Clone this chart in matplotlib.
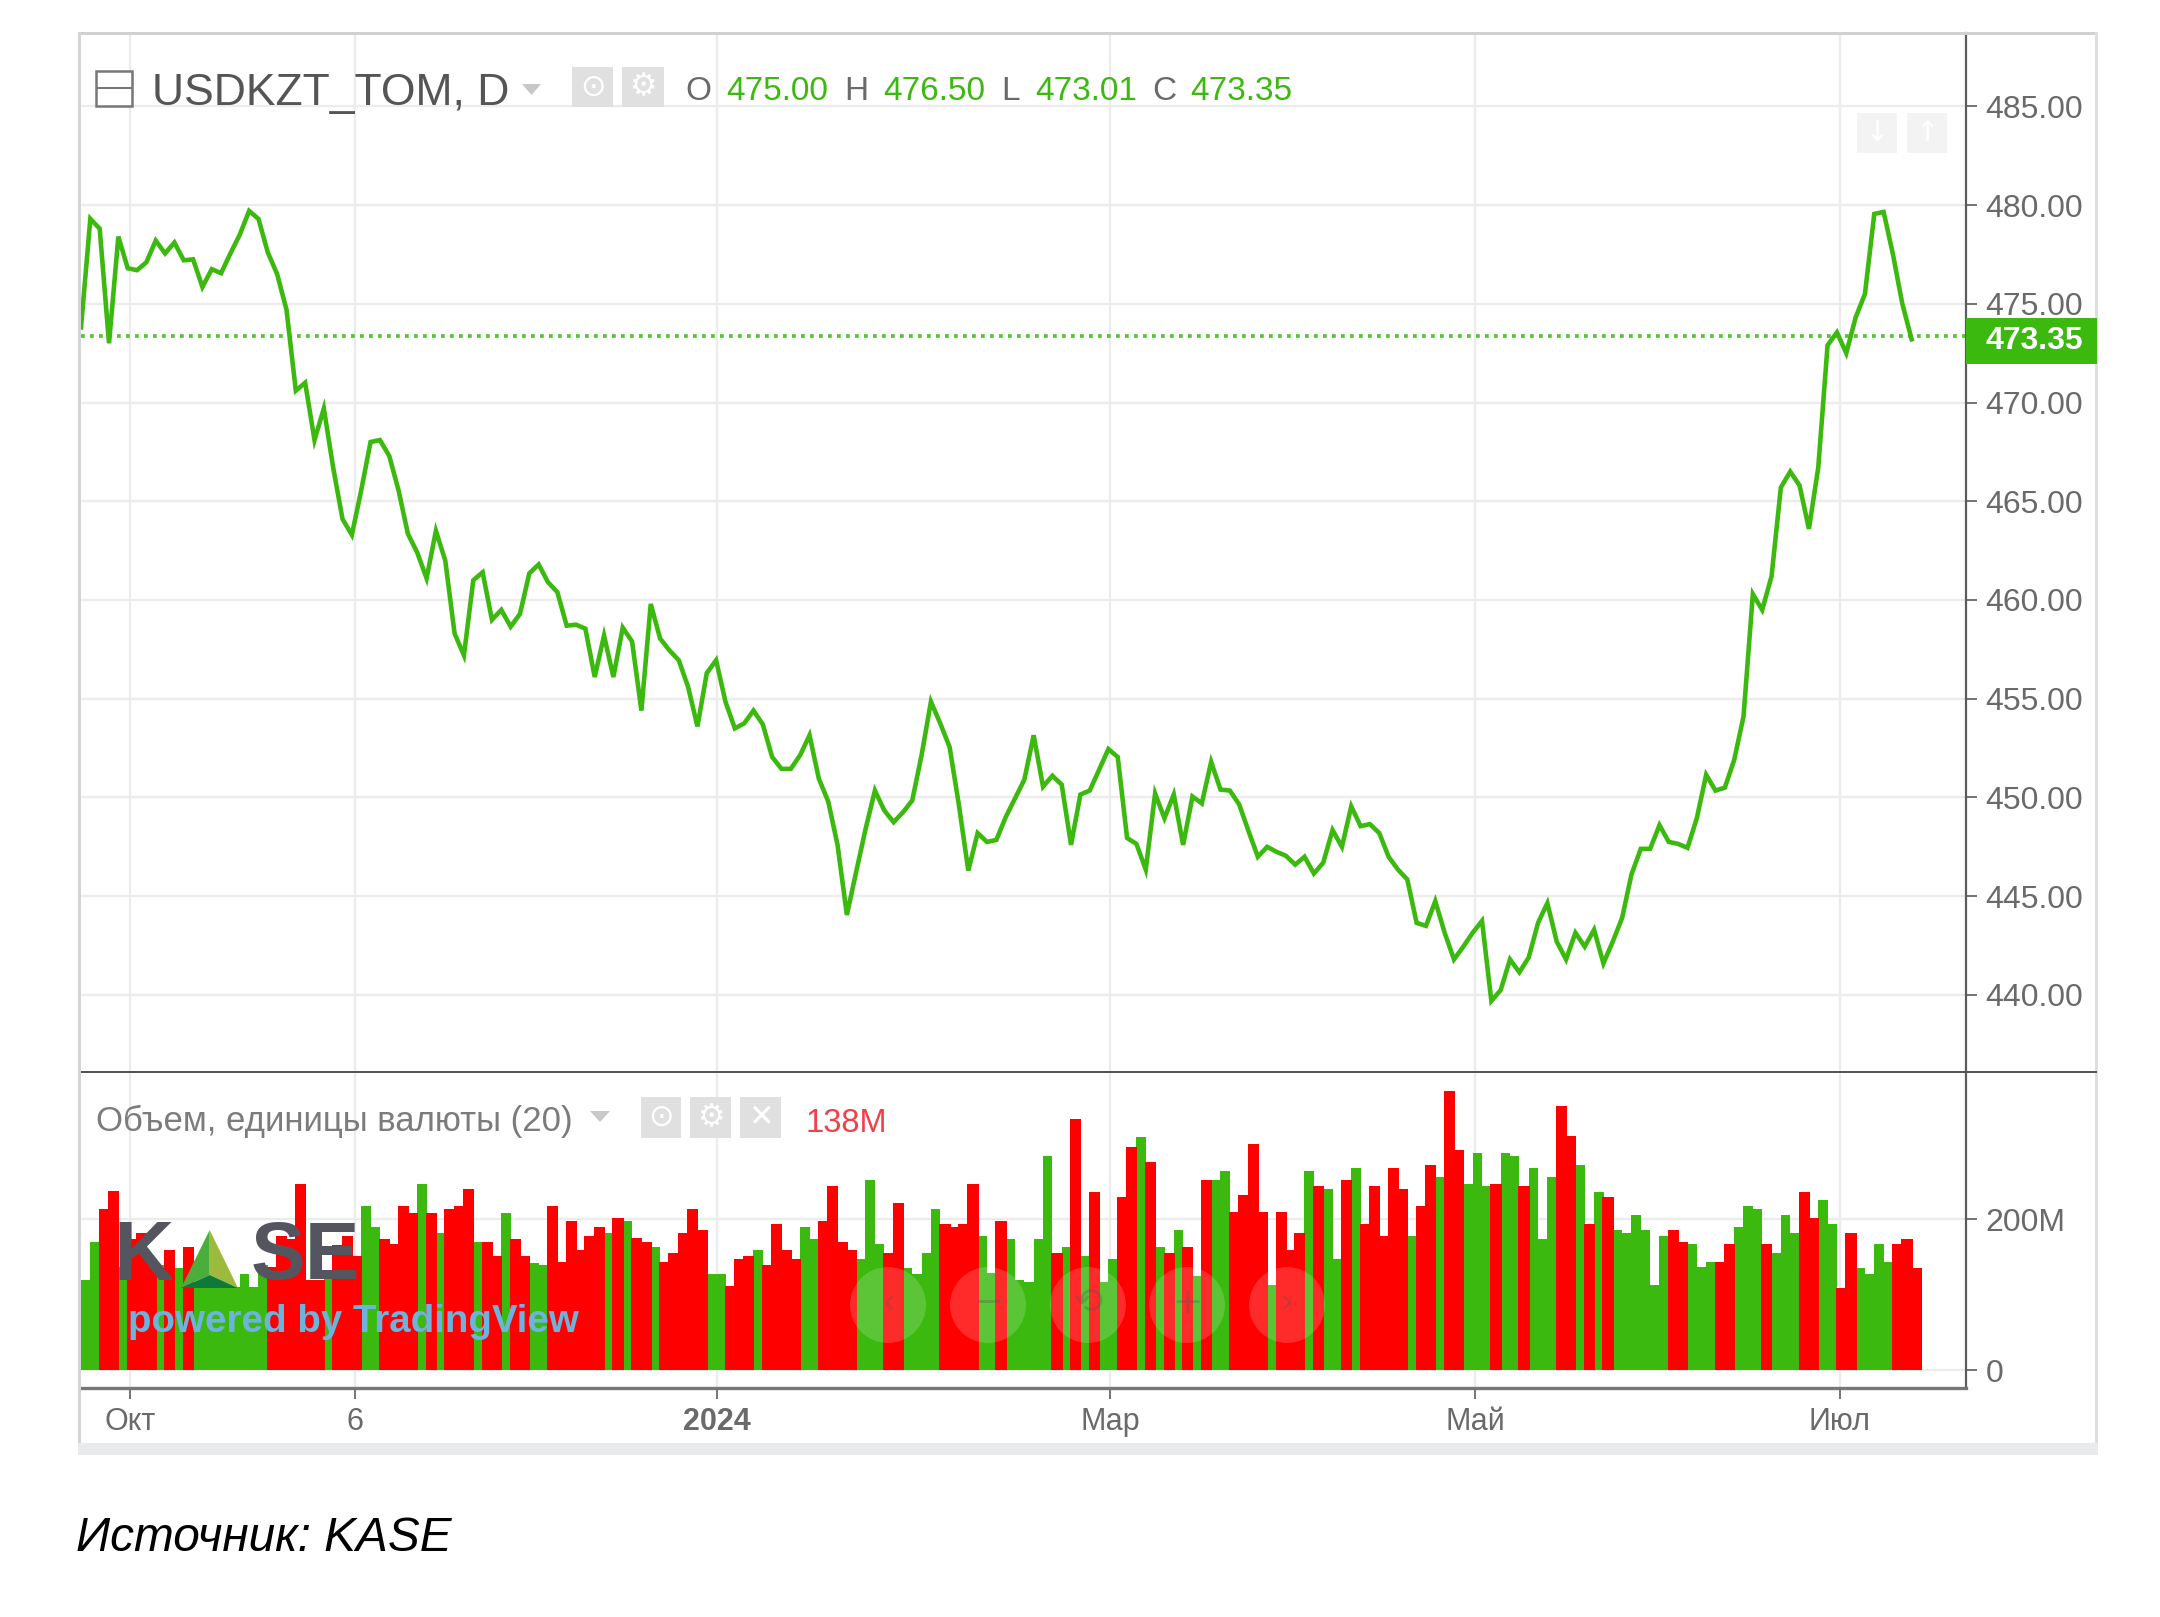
import matplotlib
matplotlib.use('Agg')
import matplotlib.pyplot as plt
from matplotlib.patches import Rectangle, Polygon, Ellipse

plt.rcParams['font.family'] = ['Liberation Sans', 'DejaVu Sans']

# Close price per trading day
price = [
    473.8, 479.3, 478.8, 473.0, 478.4, 476.8, 476.7, 477.1, 478.2, 477.55,
    478.1, 477.2, 477.25, 475.85, 476.75, 476.55, 477.55, 478.5, 479.7, 479.3,
    477.6, 476.5, 474.7, 470.6, 471.0, 468.1, 469.7, 466.7, 464.1, 463.3,
    465.55, 468.0, 468.1, 467.3, 465.55, 463.35, 462.4, 461.1, 463.5, 462.0,
    458.3, 457.2, 461.0, 461.4, 459.0, 459.5, 458.65, 459.3, 461.35, 461.8,
    460.9, 460.4, 458.7, 458.75, 458.55, 456.1, 458.2, 456.1, 458.6, 457.9,
    454.4, 459.8, 458.05, 457.45, 456.95, 455.6, 453.6, 456.3, 456.95, 454.85,
    453.5, 453.75, 454.4, 453.7, 452.05, 451.45, 451.45, 452.15, 453.15, 450.95,
    449.8, 447.6, 444.05, 446.25, 448.4, 450.35, 449.35, 448.75, 449.25, 449.85,
    452.15, 454.85, 453.75, 452.55, 449.6, 446.3, 448.2, 447.75, 447.85, 449.0,
    449.95, 450.9, 453.15, 450.55, 451.1, 450.65, 447.6, 450.15, 450.35, 451.4,
    452.45, 452.05, 447.95, 447.65, 446.35, 450.2, 448.95, 450.15, 447.6, 450.05,
    449.7, 451.8, 450.4, 450.35, 449.65, 448.3, 447.0, 447.5, 447.25, 447.05,
    446.6, 447.0, 446.15, 446.7, 448.35, 447.5, 449.55, 448.55, 448.65, 448.2,
    447.0, 446.35, 445.85, 443.65, 443.5, 444.75, 443.15, 441.8, 442.45, 443.15,
    443.75, 439.7, 440.25, 441.8, 441.15, 441.9, 443.65, 444.65, 442.7, 441.8,
    443.15, 442.45, 443.3, 441.6, 442.7, 443.9, 446.1, 447.4, 447.4, 448.6,
    447.75, 447.65, 447.45, 448.95, 451.15, 450.35, 450.5, 451.9, 454.1, 460.3,
    459.5, 461.2, 465.7, 466.5, 465.8, 463.6, 466.7, 472.9, 473.55, 472.5,
    474.3, 475.5, 479.55, 479.65, 477.5, 475.0, 473.2,
]

# Volume in millions, same days
volume = [
    119, 170, 213, 237, 137, 174, 181, 146, 139, 159,
    135, 163, 110, 110, 110, 110, 110, 127, 110, 139,
    137, 177, 174, 247, 119, 119, 124, 166, 177, 151,
    217, 190, 174, 167, 217, 208, 247, 208, 181, 213,
    217, 240, 169, 170, 151, 208, 174, 151, 142, 139,
    217, 143, 198, 159, 178, 190, 181, 202, 198, 175,
    170, 163, 143, 155, 181, 213, 185, 127, 127, 111,
    147, 151, 159, 139, 193, 159, 147, 189, 174, 197,
    244, 170, 159, 147, 252, 167, 155, 221, 135, 127,
    155, 213, 193, 190, 193, 247, 178, 128, 197, 174,
    119, 116, 174, 283, 155, 163, 333, 151, 236, 116,
    147, 229, 295, 309, 275, 163, 155, 185, 163, 124,
    252, 252, 264, 209, 232, 299, 209, 113, 209, 159,
    182, 264, 244, 240, 147, 252, 267, 193, 244, 178,
    267, 240, 177, 217, 271, 255, 369, 291, 247, 287,
    244, 247, 287, 283, 244, 267, 174, 255, 350, 310,
    271, 193, 236, 229, 185, 181, 205, 185, 113, 177,
    185, 170, 167, 136, 143, 143, 167, 189, 217, 213,
    167, 155, 205, 181, 236, 202, 225, 193, 108, 181,
    135, 127, 167, 143, 167, 174, 135,
]

# g = rising day, r = falling day
direction = (
    'ggrrgrrrgr' 'grgggggggg' 'rrrrrrgrrr' 'ggrrrrgrgr' 'rrgrrgrrgg'
    'rrrrrrgrgr' 'rgrrrrrggr' 'rrgrrrrggr' 'rrrgggrrgg' 'ggrrrrggrg'
    'ggggrgrgrg' 'grrgrgrgrg' 'rggrrrrgrr' 'rgrggrgrrr' 'rrgrrgrrgg'
    'grggrgggrr' 'grgrgggggg' 'rrgggrrggg' 'rgggrrggrr' 'ggggrrr'
)

price_ticks = [440, 445, 450, 455, 460, 465, 470, 475, 480, 485]
volume_ticks = [0, 200]
volume_labels = ['0', '200M']
month_ticks = [5.25, 29.3, 68.1, 110.2, 149.3, 188.3]
month_labels = ['Окт', '6', '2024', 'Мар', 'Май', 'Июл']
last_close = 473.35

GREEN = '#3cb90f'
RED = '#ff0000'
GRID = '#ececec'
AXIS = '#5c5c5c'
LABEL = '#6a6a6a'
W, H = 2160, 1617


def fx(x):
    return x / W


def fy(y):
    return 1 - y / H


def box(x0, y0, x1, y1, color, z=5, alpha=1.0):
    fig.add_artist(Rectangle((fx(x0), fy(y1)), (x1 - x0) / W, (y1 - y0) / H, transform=fig.transFigure,
                             facecolor=color, edgecolor='none', zorder=z, alpha=alpha))


def poly(points, color, z=6):
    fig.add_artist(Polygon([(fx(x), fy(y)) for x, y in points], closed=True, transform=fig.transFigure,
                           facecolor=color, edgecolor='none', zorder=z))


def label(x, y, s, size, color=LABEL, ha='left', **kw):
    fig.text(fx(x), fy(y), s, fontsize=size, color=color, ha=ha, va='center', zorder=7, **kw)


def icon(x0, y0, x1, y1, glyph, color='#e0e0e0', size=22):
    box(x0, y0, x1, y1, color)
    label((x0 + x1) / 2, (y0 + y1) / 2, glyph, size, color='white', ha='center', family='DejaVu Sans')


fig = plt.figure(figsize=(21.6, 16.17), dpi=100, facecolor='white')

left, right = 81, 1966
step = 9.34
xmax = (right - left) / step

# Price pane
ax = fig.add_axes([fx(left), fy(1072), (right - left) / W, (1072 - 33) / H])
ax.plot(range(len(price)), price, color=GREEN, lw=3.3, solid_joinstyle='miter', zorder=3)
ax.axhline(last_close, color='#55c436', lw=2.7, ls=(0, (1.0, 1.4)), zorder=2)
ax.set_xlim(0, xmax)
ax.set_ylim(436.1, 488.71)
ax.set_yticks(price_ticks)
ax.set_yticklabels(['%.2f' % p for p in price_ticks])
ax.set_xticks(month_ticks)
ax.tick_params(axis='x', length=0, labelbottom=False)

# Volume pane
ax2 = fig.add_axes([fx(left), fy(1388), (right - left) / W, (1388 - 1072) / H])
green_x = [i + 0.5 for i, d in enumerate(direction) if d == 'g']
green_v = [v for v, d in zip(volume, direction) if d == 'g']
red_x = [i + 0.5 for i, d in enumerate(direction) if d == 'r']
red_v = [v for v, d in zip(volume, direction) if d == 'r']
ax2.bar(green_x, green_v, width=1.02, color=GREEN, zorder=3)
ax2.bar(red_x, red_v, width=1.2, color=RED, zorder=4)
ax2.set_xlim(0, xmax)
ax2.set_ylim(-23.8, 394.7)
ax2.set_yticks(volume_ticks)
ax2.set_yticklabels(volume_labels)
ax2.set_xticks(month_ticks)
ax2.set_xticklabels(month_labels)
ax2.get_xticklabels()[2].set_fontweight('bold')

for a in (ax, ax2):
    a.yaxis.tick_right()
    a.grid(True, color=GRID, lw=1.6, zorder=0)
    a.set_axisbelow(True)
    a.tick_params(axis='y', length=8, width=1.2, color=AXIS, pad=6, labelsize=23, labelcolor=LABEL)
    for name in ('top', 'left', 'bottom'):
        a.spines[name].set_visible(False)
    a.spines['right'].set_color(AXIS)
    a.spines['right'].set_linewidth(1.6)
ax2.spines['bottom'].set_visible(True)
ax2.spines['bottom'].set_color('#777777')
ax2.spines['bottom'].set_linewidth(2.4)
ax2.tick_params(axis='x', length=8, width=1.2, color=AXIS, pad=6, labelsize=22, labelcolor=LABEL)

# Outer frame
box(79, 32, 2097, 35, '#cfd1d3', z=4)
box(78, 32, 81, 1455, '#d3d5d7', z=4)
box(2095, 32, 2098, 1455, '#dcdee0', z=4)
box(78, 1443, 2098, 1455, '#e8eaeb', z=4)
box(81, 1071, 2097, 1073, '#555555', z=5)

# Price header
fig.add_artist(Rectangle((fx(96), fy(106)), 36 / W, 35 / H, transform=fig.transFigure, facecolor='white',
                         edgecolor='#777777', lw=1.8, zorder=6))
box(96, 87.5, 132, 89.5, '#777777', z=7)
label(152, 94, 'USDKZT_TOM, D', 32, color='#555555')
poly([(522, 84), (541, 84), (531.5, 95)], '#c8c8c8')
icon(572, 67, 613, 107, '⊙')
icon(622, 67, 664, 107, '⚙')
ohlc_heads = [(698, 'O'), (856, 'H'), (1010, 'L'), (1164, 'C')]
ohlc_values = [(726, '475.00'), (883, '476.50'), (1035, '473.01'), (1190, '473.35')]
for x, s in ohlc_heads:
    label(x, 92, s, 24, ha='center')
for x, s in ohlc_values:
    label(x, 92, s, 24, color=GREEN)
icon(1857, 113, 1897, 153, '↓', color='#f3f3f3', size=20)
icon(1907, 113, 1947, 153, '↑', color='#f3f3f3', size=20)

# Last price tag
box(1966, 318, 2097, 364, GREEN)
label(1985, 341, '473.35', 23, color='white', fontweight='bold')

# Volume header
label(96, 1121, 'Объем, единицы валюты (20)', 25, color='#7c7c7c')
poly([(590, 1111), (610, 1111), (600, 1122)], '#c8c8c8')
icon(641, 1097, 681, 1138, '⊙')
icon(690, 1097, 731, 1138, '⚙')
icon(740, 1097, 781, 1138, '✕')
label(805, 1123, '138M', 23.5, color='#f0404a')

# Watermark
label(113, 1258, 'K', 60, color='#55555f', fontweight='bold')
label(251, 1258, 'SE', 59, color='#55555f', fontweight='bold')
poly([(209.7, 1230), (181, 1288), (209.7, 1275)], '#4aad3c')
poly([(209.7, 1230), (238, 1288), (209.7, 1275)], '#9cbb3c')
poly([(181, 1288), (209.7, 1275), (238, 1288)], '#0d7a3c')
label(128, 1322, 'powered by TradingView', 27.7, color='#6db3dc', fontweight='bold')

# Chart navigation buttons
nav_x = [888, 988, 1088, 1187, 1287]
nav_glyphs = ['‹', '−', '⟲', '+', '›']
for x, g in zip(nav_x, nav_glyphs):
    fig.add_artist(Ellipse((fx(x), fy(1305)), 76 / W, 76 / H, transform=fig.transFigure,
                           facecolor='white', edgecolor='none', alpha=0.17, zorder=6))
    label(x, 1303, g, 26, color='#555555', ha='center', alpha=0.3, family='DejaVu Sans')

# Source line
label(76, 1538, 'Источник: KASE', 34.4, color='black', style='italic')

fig.savefig('out.png', dpi=100)
